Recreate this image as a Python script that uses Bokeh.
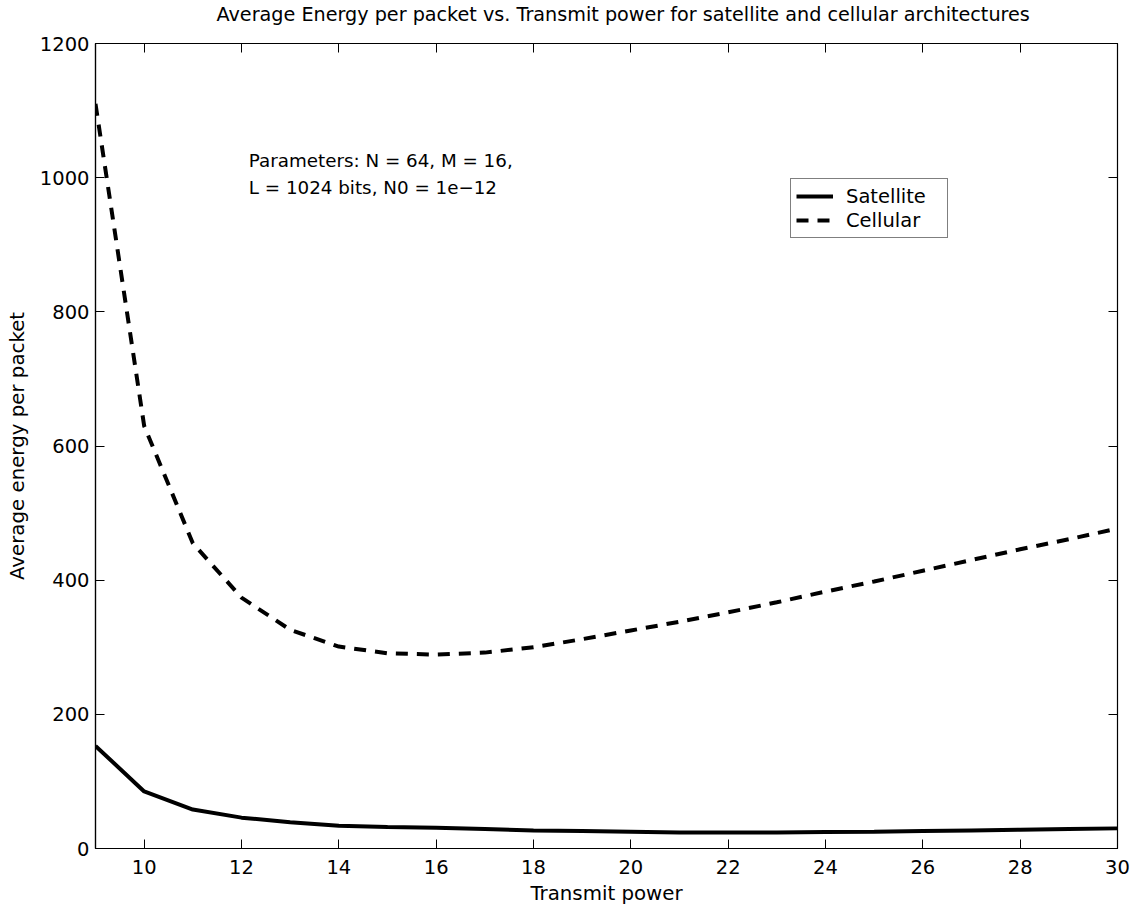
from bokeh.plotting import figure
from bokeh.models import Range1d, LinearAxis, FixedTicker, Legend, LegendItem, Label, Title
from bokeh.embed import file_html
from bokeh.resources import INLINE

transmit_power = list(range(9, 31))
satellite = [153, 85, 58, 46, 39, 34, 32, 31, 29, 27, 26, 25, 24, 24, 24, 24.5, 25, 26, 27, 28, 29, 30]
cellular = [1110, 630, 455, 374, 326, 301, 291, 289, 292, 300, 312, 325, 338, 352, 367, 383, 398, 414, 430, 446, 461, 477]
x_ticks = [10, 12, 14, 16, 18, 20, 22, 24, 26, 28, 30]
y_ticks = [0, 200, 400, 600, 800, 1000, 1200]
title = "Average Energy per packet vs. Transmit power for satellite and cellular architectures"
annot = ["Parameters: N = 64, M  = 16,", "L = 1024 bits, N0 = 1e\u221212"]

FONT = "DejaVu Sans"

p = figure(width=1139, height=910, output_backend="svg", toolbar_location=None,
           x_range=Range1d(9, 30), y_range=Range1d(0, 1200),
           min_border_left=95, min_border_right=22, min_border_top=43, min_border_bottom=62,
           x_axis_label="Transmit power", y_axis_label="Average energy per packet")
p.title = None
p.xgrid.visible = False
p.ygrid.visible = False
p.outline_line_color = "black"
p.outline_line_width = 1.2
p.background_fill_color = "white"
p.border_fill_color = "white"

for ax in (p.xaxis[0], p.yaxis[0]):
    ax.major_label_text_font = FONT
    ax.major_label_text_font_size = "19.5px"
    ax.major_label_text_color = "black"
    ax.axis_label_text_font = FONT
    ax.axis_label_text_font_size = "19.8px"
    ax.axis_label_text_font_style = "normal"
    ax.axis_label_text_color = "black"
    ax.major_tick_in = 9
    ax.major_tick_out = 0
    ax.minor_tick_in = 0
    ax.minor_tick_out = 0
    ax.axis_line_color = "black"
    ax.axis_line_width = 1.2
    ax.major_tick_line_color = "black"
p.xaxis[0].ticker = FixedTicker(ticks=x_ticks)
p.yaxis[0].ticker = FixedTicker(ticks=y_ticks)
p.xaxis[0].major_label_standoff = 11
p.xaxis[0].axis_label_standoff = 5
p.yaxis[0].major_label_standoff = 6
p.yaxis[0].axis_label_standoff = 8

# mirror ticks on top/right
top = LinearAxis(ticker=FixedTicker(ticks=x_ticks), major_label_text_font_size="0px",
                 major_tick_in=9, major_tick_out=0, minor_tick_in=0, minor_tick_out=0,
                 axis_line_color="black")
right = LinearAxis(ticker=FixedTicker(ticks=y_ticks), major_label_text_font_size="0px",
                   major_tick_in=9, major_tick_out=0, minor_tick_in=0, minor_tick_out=0,
                   axis_line_color="black")
top.major_label_text_alpha = 0
right.major_label_text_alpha = 0
top.major_label_standoff = 0
right.major_label_standoff = 0
p.add_layout(top, "above")
p.add_layout(right, "right")

# spacer between frame and title, then the title itself
p.add_layout(Title(text=" ", text_font_size="14px", standoff=0), "above")
p.add_layout(Title(text=title, align="left", offset=121, text_font=FONT, text_font_size="19.2px",
                   text_font_style="normal", text_color="black", standoff=0), "above")

r1 = p.line(transmit_power, satellite, line_color="black", line_width=4)
r2 = p.line(transmit_power, cellular, line_color="black", line_width=4, line_dash="12 9")

legend = Legend(items=[LegendItem(label="Satellite", renderers=[r1]),
                       LegendItem(label="Cellular", renderers=[r2])],
                location=(695, 610))
legend.label_text_font = FONT
legend.label_text_font_size = "19.5px"
legend.label_text_color = "black"
legend.border_line_color = "black"
legend.border_line_width = 1.2
legend.padding = 5
legend.spacing = 0
legend.margin = 0
legend.glyph_width = 37
legend.glyph_height = 24
legend.label_height = 24
legend.label_standoff = 13
legend.label_width = 96
legend.background_fill_alpha = 1
p.add_layout(legend, "center")

p.add_layout(Label(x=12.15, y=1026, text=annot[0], text_font=FONT, text_font_size="18.3px",
                   text_baseline="middle", text_color="black"))
p.add_layout(Label(x=12.15, y=986, text=annot[1], text_font=FONT, text_font_size="18.3px",
                   text_baseline="middle", text_color="black"))

open("out.html", "w").write(file_html(p, INLINE))
